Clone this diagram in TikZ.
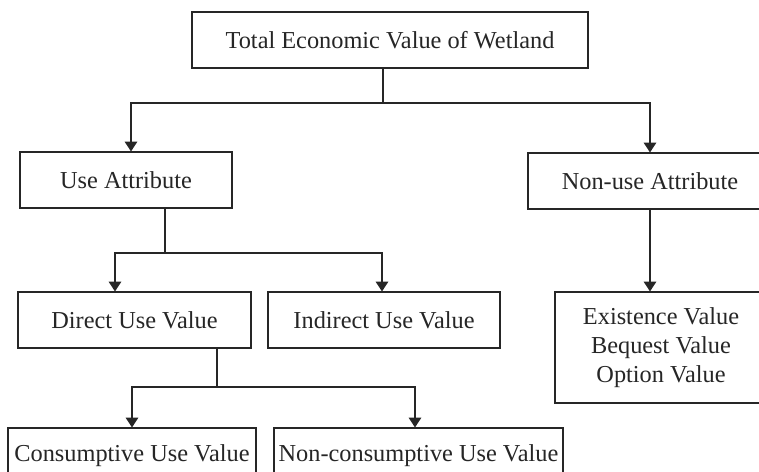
\documentclass[tikz,border=0pt]{standalone}
\usepackage{fontspec}
\setmainfont{Liberation Serif}
\usetikzlibrary{arrows.meta}
\tikzstyle{valueBox} = [shape=rectangle, draw=black!85, text=black!85, line width=0.8pt,
	align=center, fill=white, inner sep=0pt, font=\fontsize{17.3}{20.4}\selectfont]
\tikzstyle{valueArrow} = [line width=0.8pt, -{Triangle[width=9pt,length=7pt]}, draw=black!85]
\tikzstyle{valueLine} = [line width=0.8pt, draw=black!85]
\tikzstyle{ValueBox} = [valueBox, minimum height=1.4cm]

\begin{document}
\begin{tikzpicture}[x=0.025cm, y=-0.025cm]
	\useasboundingbox (0,0) rectangle (759,472);
	\node (Total) at (390,40) [ValueBox, minimum width=9.9cm] {Total Economic Value of Wetland};

	\node (Use) at (126,180) [ValueBox, minimum width=5.3cm] {Use Attribute};
	\node (NonUse) at (650,181) [ValueBox, minimum width=6.1cm] {Non-use Attribute};

	\node (Direct) at (134.5,320) [ValueBox, minimum width=5.825cm] {Direct Use Value};
	\node (Indirect) at (384,320) [ValueBox, minimum width=5.8cm] {Indirect Use Value};
	\node (Existence) at (661,347.5) [valueBox, minimum width=5.3cm, minimum height=2.775cm] {Existence Value\\Bequest Value\\Option Value};

	\node (Consumptive) at (132,456) [ValueBox, minimum width=6.2cm] {Consumptive Use Value};
	\node (NonConsumptive) at (418.5,456) [ValueBox, minimum width=7.225cm] {Non-consumptive Use Value};

	% branch points
	\coordinate (TotalSplit) at (383,103);
	\coordinate (UseSplit) at (165,253);
	\coordinate (DirectSplit) at (217,387);

	\draw [valueLine] (Total.south -| TotalSplit) -- (TotalSplit);
	\draw [valueArrow] (TotalSplit) -| ([xshift=0.125cm]Use.north);
	\draw [valueArrow] (TotalSplit) -| (NonUse.north);

	\draw [valueLine] (Use.south -| UseSplit) -- (UseSplit);
	\draw [valueArrow] (UseSplit) -| ([xshift=-0.4875cm]Direct.north);
	\draw [valueArrow] (UseSplit) -| ([xshift=-0.05cm]Indirect.north);

	\draw [valueArrow] (NonUse.south) -- (NonUse.south |- Existence.north);

	\draw [valueLine] (Direct.south -| DirectSplit) -- (DirectSplit);
	\draw [valueArrow] (DirectSplit) -| (Consumptive.north);
	\draw [valueArrow] (DirectSplit) -| ([xshift=-0.0875cm]NonConsumptive.north);
\end{tikzpicture}
\end{document}
